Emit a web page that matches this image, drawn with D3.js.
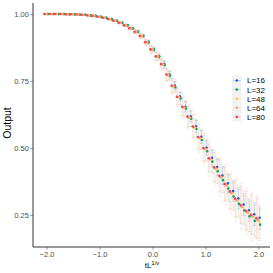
<!DOCTYPE html>
<html><head><meta charset="utf-8">
<script src="https://cdn.jsdelivr.net/npm/d3@7"></script>
<style>body{margin:0;background:#fff}svg{display:block}text{font-family:"Liberation Sans",Arial,sans-serif}</style>
</head><body><svg id="c" width="273" height="273"></svg>
<script>
const xs = [-2.0,-1.9,-1.8,-1.7,-1.6,-1.5,-1.4,-1.3,-1.2,-1.1,-1.0,-0.9,-0.8,-0.7,-0.6,-0.5,-0.4,-0.3,-0.2,-0.1,0.0,0.1,0.2,0.3,0.4,0.5,0.6,0.7,0.8,0.9,1.0,1.1,1.2,1.3,1.4,1.5,1.6,1.7,1.8,1.9,2.0];
const seriesNames = ["L=16","L=32","L=48","L=64","L=80"];
const head = [1.000,1.000,1.000,1.000,0.999,0.999,0.998,0.997,0.995,0.993,0.990,0.986,0.981,0.975,0.967,0.958,0.947,0.934,0.918,0.895,0.868];
const y16 = head.concat([0.842,0.813,0.774,0.733,0.692,0.654,0.618,0.581,0.542,0.501,0.463,0.429,0.397,0.368,0.339,0.312,0.289,0.268,0.253,0.240]);
const y32 = head.concat([0.841,0.810,0.770,0.727,0.685,0.647,0.609,0.571,0.530,0.488,0.449,0.413,0.380,0.349,0.319,0.292,0.267,0.245,0.228,0.214]);
const y48 = head.concat([0.842,0.811,0.772,0.730,0.689,0.651,0.614,0.576,0.536,0.495,0.457,0.422,0.390,0.359,0.330,0.303,0.279,0.258,0.242,0.228]);
const y64 = head.concat([0.842,0.812,0.773,0.731,0.690,0.652,0.615,0.578,0.538,0.497,0.459,0.424,0.392,0.362,0.333,0.306,0.282,0.261,0.245,0.232]);
const y80 = head.concat([0.842,0.813,0.774,0.732,0.691,0.654,0.617,0.580,0.541,0.500,0.462,0.428,0.396,0.366,0.338,0.311,0.287,0.266,0.251,0.238]);
const zeros10 = [0,0,0,0,0,0,0,0,0,0];
const e16 = zeros10.concat([0,0.001,0.001,0.001,0.001,0.003,0.003,0.004,0.004,0.006,0.007,0.008,0.011,0.013,0.015,0.017,0.020,0.021,0.024,0.025,0.028,0.031,0.032,0.034,0.036,0.038,0.039,0.041,0.042,0.042,0.043]);
const e32 = zeros10.concat([0.001,0.001,0.001,0.001,0.003,0.003,0.004,0.006,0.007,0.008,0.010,0.013,0.014,0.017,0.021,0.024,0.027,0.029,0.032,0.035,0.039,0.042,0.045,0.046,0.049,0.052,0.053,0.055,0.057,0.059,0.059]);
const e48 = zeros10.concat([0.001,0.001,0.001,0.003,0.003,0.004,0.004,0.006,0.007,0.008,0.011,0.013,0.015,0.020,0.022,0.027,0.029,0.032,0.035,0.039,0.042,0.045,0.049,0.050,0.053,0.056,0.059,0.060,0.062,0.063,0.064]);
const e64 = zeros10.concat([0.001,0.001,0.003,0.003,0.004,0.006,0.007,0.008,0.010,0.013,0.015,0.018,0.022,0.027,0.032,0.036,0.042,0.046,0.050,0.055,0.060,0.064,0.069,0.073,0.076,0.080,0.083,0.085,0.088,0.090,0.091]);
const e80 = zeros10.concat([0.001,0.001,0.001,0.003,0.003,0.004,0.006,0.007,0.008,0.010,0.013,0.015,0.018,0.022,0.027,0.031,0.034,0.038,0.042,0.045,0.049,0.053,0.056,0.060,0.063,0.066,0.069,0.070,0.073,0.074,0.076]);
const xTicks = [-2.0,-1.0,0.0,1.0,2.0];
const yTicks = [0.25,0.50,0.75,1.00];

const colors = ["#1f5fdf","#14a06c","#f7c64e","#ff9c7e","#f2474b"];
const dodge = [0.02,0.03,0.0,-0.02,-0.04];
const ys = [y16,y32,y48,y64,y80];
const es = [e16,e32,e48,e64,e80];

const svg = d3.select("#c");
const L=33, R=270, T=3, B=247;
const x = d3.scaleLinear().domain([-2,2]).range([46.5,258.5]);
const y = d3.scaleLinear().domain([0.25,1.0]).range([215,14]);

const g = svg.append("g");
ys.forEach((yy,si)=>{
  const gs = g.append("g").attr("stroke",colors[si]).attr("stroke-opacity",0.3).attr("stroke-width",0.6).attr("fill","none");
  xs.forEach((xv,i)=>{
    const cx = x(xv+dodge[si]);
    const lo = y(yy[i]-es[si][i]), hi = y(yy[i]+es[si][i]);
    gs.append("line").attr("x1",cx).attr("x2",cx).attr("y1",lo).attr("y2",hi);
    gs.append("line").attr("x1",cx-1.6).attr("x2",cx+1.6).attr("y1",lo).attr("y2",lo);
    gs.append("line").attr("x1",cx-1.6).attr("x2",cx+1.6).attr("y1",hi).attr("y2",hi);
  });
});
ys.forEach((yy,si)=>{
  g.append("g").selectAll("circle").data(xs).join("circle")
    .attr("cx",(d)=>x(d+dodge[si])).attr("cy",(d,i)=>y(yy[i])).attr("r",1.3)
    .attr("fill",colors[si]);
});

const xa = svg.append("g").attr("transform",`translate(0,${B})`)
  .call(d3.axisBottom(x).tickValues(xTicks).tickFormat(d3.format(".1f")).tickSize(2.7).tickPadding(2));
const ya = svg.append("g").attr("transform",`translate(${L},0)`)
  .call(d3.axisLeft(y).tickValues(yTicks).tickFormat(d3.format(".2f")).tickSize(2.7).tickPadding(1.5));
[xa,ya].forEach(a=>{
  a.select(".domain").remove();
  a.selectAll(".tick line").attr("stroke","#333").attr("stroke-width",0.5);
  a.selectAll(".tick text").attr("fill","#4d4d4d").attr("font-size",7.5).attr("font-family","Liberation Sans, Arial, sans-serif");
});
svg.append("line").attr("x1",L).attr("x2",L).attr("y1",T).attr("y2",B).attr("stroke","#333").attr("stroke-width",1);
svg.append("line").attr("x1",L).attr("x2",R).attr("y1",B).attr("y2",B).attr("stroke","#333").attr("stroke-width",1);

svg.append("text").attr("transform",`translate(11,123) rotate(-90)`).attr("text-anchor","middle")
  .attr("font-size",10.5).attr("fill","#000").text("Output");
const xt = svg.append("text").attr("x",152).attr("y",268).attr("text-anchor","middle").attr("font-size",8).attr("fill","#000");
xt.append("tspan").text("tL");
xt.append("tspan").attr("dy",-3.5).attr("font-size",6).text("1/ν");

const lg = svg.append("g");
lg.append("rect").attr("x",232).attr("y",75.5).attr("width",9.5).attr("height",46).attr("fill","#f2f2f2");
seriesNames.forEach((n,i)=>{
  const cy = 80.5 + i*9.1;
  lg.append("line").attr("x1",233).attr("x2",240.5).attr("y1",cy).attr("y2",cy).attr("stroke",colors[i]).attr("stroke-opacity",0.35).attr("stroke-width",0.8);
  lg.append("circle").attr("cx",236.8).attr("cy",cy).attr("r",1.3).attr("fill",colors[i]);
  lg.append("text").attr("x",247).attr("y",cy+2.9).attr("font-size",8).attr("fill","#000").text(n);
});
</script></body></html>
